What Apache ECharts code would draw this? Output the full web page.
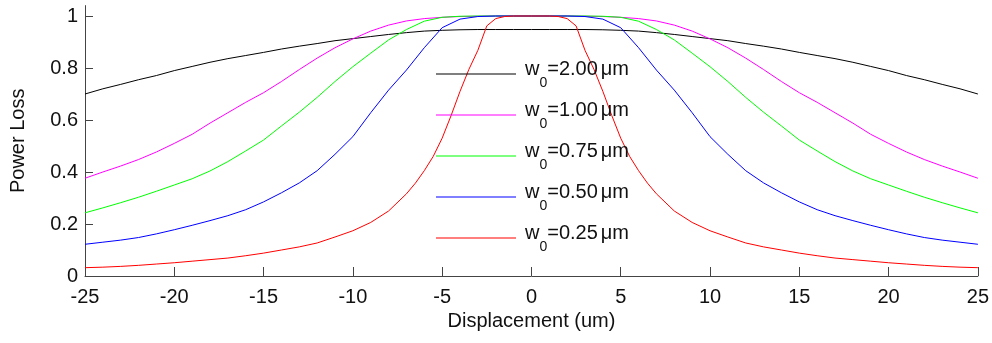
<!DOCTYPE html>
<html>
<head>
<meta charset="utf-8">
<script src="https://cdn.jsdelivr.net/npm/echarts@6/dist/echarts.min.js"></script>
<style>
  html, body { margin: 0; padding: 0; background: #fff; }
  #chart { width: 992px; height: 343px; }
</style>
</head>
<body>
<div id="chart"></div>
<script>
// Displacement grid (um), one sample per micron
const xCoarse = [-25,-24,-23,-22,-21,-20,-19,-18,-17,-16,-15,-14,-13,-12,-11,-10,-9,-8,-7,-6,-5,-4,-3,-2,-1,
  0,1,2,3,4,5,6,7,8,9,10,11,12,13,14,15,16,17,18,19,20,21,22,23,24,25];

// Finer grid for the narrowest beam, half-micron steps across the steep flanks
const xFine = [-25,-24,-23,-22,-21,-20,-19,-18,-17,-16,-15,-14,-13,-12,-11,-10,-9,-8,-7,
  -6.5,-6,-5.5,-5,-4.5,-4,-3.5,-3,-2.5,-2,-1.5,-1,-0.5,0,0.5,1,1.5,2,2.5,3,3.5,4,4.5,5,5.5,6,6.5,
  7,8,9,10,11,12,13,14,15,16,17,18,19,20,21,22,23,24,25];

// Power loss for each beam waist
const loss200 = [0.700,0.720,0.737,0.755,0.771,0.790,0.806,0.822,0.836,0.848,0.860,0.873,0.884,0.894,0.905,0.913,0.921,0.929,0.936,0.942,0.945,0.947,0.948,0.948,0.948,
  0.948,0.948,0.948,0.948,0.947,0.945,0.942,0.936,0.929,0.921,0.913,0.905,0.894,0.884,0.873,0.860,0.848,0.836,0.822,0.806,0.790,0.771,0.755,0.737,0.720,0.700];

const loss100 = [0.376,0.400,0.423,0.448,0.477,0.510,0.545,0.588,0.628,0.668,0.705,0.748,0.794,0.838,0.878,0.912,0.942,0.965,0.981,0.990,0.995,0.998,0.999,1.000,1.000,
  1.000,1.000,1.000,0.999,0.998,0.995,0.990,0.981,0.965,0.942,0.912,0.878,0.838,0.794,0.748,0.705,0.668,0.628,0.588,0.545,0.510,0.477,0.448,0.423,0.400,0.376];

const loss075 = [0.243,0.262,0.282,0.303,0.326,0.350,0.374,0.404,0.440,0.481,0.523,0.577,0.630,0.687,0.748,0.805,0.857,0.908,0.948,0.980,0.995,0.999,1.000,1.000,1.000,
  1.000,1.000,1.000,1.000,0.999,0.995,0.980,0.948,0.908,0.857,0.805,0.748,0.687,0.630,0.577,0.523,0.481,0.440,0.404,0.374,0.350,0.326,0.303,0.282,0.262,0.243];

const loss050 = [0.122,0.130,0.138,0.148,0.162,0.178,0.195,0.213,0.232,0.255,0.285,0.320,0.358,0.405,0.468,0.536,0.628,0.715,0.792,0.878,0.955,0.988,0.998,1.000,1.000,
  1.000,1.000,1.000,0.998,0.988,0.955,0.878,0.792,0.715,0.628,0.536,0.468,0.405,0.358,0.320,0.285,0.255,0.232,0.213,0.195,0.178,0.162,0.148,0.138,0.130,0.122];

const loss025 = [0.032,0.034,0.037,0.041,0.046,0.051,0.057,0.063,0.069,0.078,0.088,0.100,0.112,0.127,0.150,0.174,0.206,0.250,0.316,
  0.357,0.405,0.460,0.530,0.617,0.710,0.795,0.868,0.962,0.990,0.998,1.000,1.000,1.000,1.000,1.000,0.998,0.990,0.962,0.868,0.795,0.710,0.617,0.530,0.460,0.405,0.357,
  0.316,0.250,0.206,0.174,0.150,0.127,0.112,0.100,0.088,0.078,0.069,0.063,0.057,0.051,0.046,0.041,0.037,0.034,0.032];

// Axis ticks
const xTicks = [-25,-20,-15,-10,-5,0,5,10,15,20,25];
const yTicks = [0,0.2,0.4,0.6,0.8,1];

const waists = ['2.00','1.00','0.75','0.50','0.25'];
const colors = ['#000000','#ff00ff','#00ff00','#0000ff','#ff0000'];
const xSets = [xCoarse,xCoarse,xCoarse,xCoarse,xFine];
const ySets = [loss200,loss100,loss075,loss050,loss025];

const FONT = "'Liberation Sans', Arial, Helvetica, sans-serif";
const TEXT = '#111';

const chart = echarts.init(document.getElementById('chart'), null, { renderer: 'canvas' });

const series = waists.map((w, k) => ({
  name: w,
  type: 'line',
  symbol: 'none',
  smooth: false,
  color: colors[k],
  lineStyle: { color: colors[k], width: 1 },
  data: xSets[k].map((x, i) => [x, ySets[k][i]])
}));

chart.setOption({
  animation: false,
  backgroundColor: '#ffffff',
  grid: { left: 85, right: 14, top: 5.6, bottom: 67, containLabel: false },
  xAxis: {
    type: 'value',
    min: -25, max: 25, interval: 5,
    name: 'Displacement (um)',
    nameLocation: 'middle',
    nameGap: 32,
    nameTextStyle: { fontFamily: FONT, fontSize: 20, color: TEXT },
    axisLine: { show: true, onZero: false, lineStyle: { color: '#444', width: 1 } },
    axisTick: { show: true, inside: true, length: 9, lineStyle: { color: '#444' }, customValues: xTicks },
    axisLabel: { fontFamily: FONT, fontSize: 20, color: TEXT, margin: 11, customValues: xTicks },
    splitLine: { show: false }
  },
  yAxis: {
    type: 'value',
    min: 0, max: 1.04,
    name: 'Power Loss',
    nameLocation: 'middle',
    nameGap: 57,
    nameTextStyle: { fontFamily: FONT, fontSize: 20, color: TEXT },
    axisLine: { show: true, onZero: false, lineStyle: { color: '#444', width: 1 } },
    axisTick: { show: true, inside: true, length: 8, lineStyle: { color: '#444' }, customValues: yTicks },
    axisLabel: { fontFamily: FONT, fontSize: 20, color: TEXT, margin: 7, customValues: yTicks },
    splitLine: { show: false }
  },
  legend: {
    show: true,
    orient: 'vertical',
    left: 436,
    top: 57.5,
    padding: 0,
    icon: 'rect',
    itemWidth: 80,
    itemHeight: 1,
    itemGap: 8,
    data: waists,
    formatter: name => '{w|w}{s|0}{t|=' + name + '}{mu|\u03bc}{t|m}',
    textStyle: {
      fontFamily: FONT,
      color: TEXT,
      rich: {
        w: { fontFamily: FONT, fontSize: 20, lineHeight: 20, color: TEXT, padding: [0, 0, 10, 4] },
        t: { fontFamily: FONT, fontSize: 20, lineHeight: 20, color: TEXT, padding: [0, 0, 10, 0] },
        mu: { fontFamily: FONT, fontSize: 20, lineHeight: 20, color: TEXT, padding: [0, 0, 10, 3] },
        s: { fontFamily: FONT, fontSize: 14, lineHeight: 14, color: TEXT, padding: [19, 0, 0, 0] }
      }
    }
  },
  series: series
});
</script>
</body>
</html>
